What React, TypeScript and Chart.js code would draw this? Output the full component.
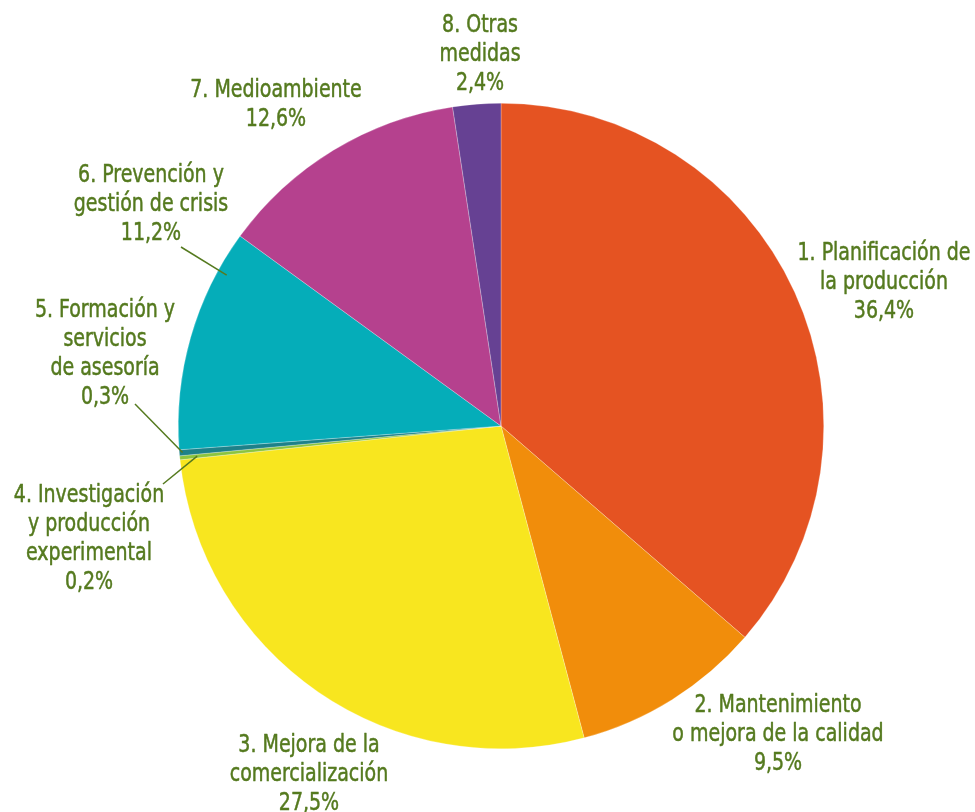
import React, { useEffect, useRef } from "react";
import { Chart, registerables } from "chart.js";

Chart.register(...registerables);

const categories = [
  "1. Planificación de la producción",
  "2. Mantenimiento o mejora de la calidad",
  "3. Mejora de la comercialización",
  "4. Investigación y producción experimental",
  "5. Formación y servicios de asesoría",
  "6. Prevención y gestión de crisis",
  "7. Medioambiente",
  "8. Otras medidas",
];
const values = [36.4, 9.5, 27.5, 0.2, 0.3, 11.2, 12.6, 2.4];
const valueLabels = ["36,4%", "9,5%", "27,5%", "0,2%", "0,3%", "11,2%", "12,6%", "2,4%"];
const labelLines = [
  ["1. Planificación de", "la producción"],
  ["2. Mantenimiento", "o mejora de la calidad"],
  ["3. Mejora de la", "comercialización"],
  ["4. Investigación", "y producción", "experimental"],
  ["5. Formación y", "servicios", "de asesoría"],
  ["6. Prevención y", "gestión de crisis"],
  ["7. Medioambiente"],
  ["8. Otras", "medidas"],
];
const colors = ["#e55322", "#f18d0b", "#f8e61f", "#8cc43f", "#1e8189", "#05adb9", "#b5418e", "#664193"];

// label layout: center x, first line center y (canvas px)
const labelPos = [
  [884, 253],
  [778, 705],
  [309, 745],
  [89, 495],
  [105, 310],
  [151, 175],
  [276, 90],
  [480, 25],
];
// leader lines: slice index, fraction along slice, radius fraction, outer end
const leaders = [
  { i: 5, t: 0.82, rf: 0.97, x: 181, y: 247 },
  { i: 4, t: 0.5, rf: 0.99, x: 135, y: 404 },
  { i: 3, t: 0.5, rf: 0.946, x: 163, y: 484 },
];

const TEXT_COLOR = "#557a1f";
const FONT = '25px "Liberation Sans Narrow", "DejaVu Sans Condensed", "Arial Narrow", sans-serif';
const LINE_H = 29;
const REF_TEXT = "1. Planificación de";
const REF_WIDTH = 173;

const labelPlugin = {
  id: "pieLabels",
  afterDraw(chart: any) {
    const ctx = chart.ctx;
    const meta = chart.getDatasetMeta(0);
    ctx.save();
    ctx.strokeStyle = TEXT_COLOR;
    ctx.lineWidth = 1.5;
    leaders.forEach((l) => {
      const arc = meta.data[l.i];
      const a = arc.startAngle + (arc.endAngle - arc.startAngle) * l.t;
      const r = arc.outerRadius * l.rf;
      ctx.beginPath();
      ctx.moveTo(arc.x + Math.cos(a) * r, arc.y + Math.sin(a) * r);
      ctx.lineTo(l.x, l.y);
      ctx.stroke();
    });
    ctx.fillStyle = TEXT_COLOR;
    ctx.font = FONT;
    ctx.textAlign = "center";
    ctx.textBaseline = "middle";
    ctx.lineWidth = 0.5;
    ctx.lineJoin = "round";
    const sx = Math.min(1, REF_WIDTH / ctx.measureText(REF_TEXT).width);
    labelLines.forEach((lines, i) => {
      const [x, y] = labelPos[i];
      const all = [...lines, valueLabels[i]];
      all.forEach((t, k) => {
        ctx.save();
        ctx.translate(x, y + k * LINE_H);
        ctx.scale(sx, 1);
        ctx.fillText(t, 0, 0);
        ctx.strokeText(t, 0, 0);
        ctx.restore();
      });
    });
    ctx.restore();
  },
};

export default function App() {
  const ref = useRef<HTMLCanvasElement | null>(null);
  useEffect(() => {
    if (!ref.current) return;
    const chart = new Chart(ref.current, {
      type: "pie",
      data: {
        labels: categories,
        datasets: [
          {
            data: values,
            backgroundColor: colors,
            borderColor: "rgba(255,255,255,0.5)",
            borderWidth: 0.5,
          },
        ],
      },
      options: {
        responsive: false,
        animation: false,
        layout: { padding: { left: 178, top: 103, right: 151, bottom: 63 } },
        plugins: {
          legend: { display: false },
          tooltip: { enabled: false },
        },
      },
      plugins: [labelPlugin],
    });
    return () => chart.destroy();
  }, []);
  return (
    <div style={{ position: "absolute", left: 0, top: 0, width: 975, height: 812, background: "#fff" }}>
      <canvas ref={ref} width={975} height={812} style={{ width: 975, height: 812 }} />
    </div>
  );
}
